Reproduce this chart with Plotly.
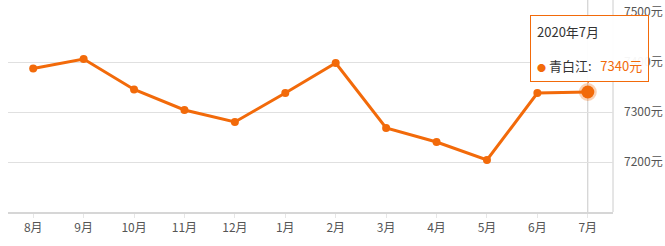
import plotly.graph_objects as go

months = ["8月", "9月", "10月", "11月", "12月", "1月", "2月", "3月", "4月", "5月", "6月", "7月"]
prices = [7387, 7406, 7345, 7304, 7280, 7338, 7398, 7268, 7240, 7204, 7338, 7340]
y_ticks = [7200, 7300, 7400, 7500]
y_tick_labels = ["7200元", "7300元", "7400元", "7500元"]
tip_title = "2020年7月"
series_name = "青白江"

ORANGE = "#f26a0a"
FONT = "Noto Sans CJK SC, Microsoft YaHei, sans-serif"

fig = go.Figure()
fig.add_trace(go.Scatter(
    x=months, y=prices, mode="lines+markers",
    line=dict(color=ORANGE, width=3),
    marker=dict(color=ORANGE, size=8),
    hoverinfo="skip", showlegend=False, cliponaxis=False,
))
# highlighted last point with halo
fig.add_trace(go.Scatter(
    x=[months[-1]], y=[prices[-1]], mode="markers",
    marker=dict(color=ORANGE, size=13, line=dict(color="rgba(242,106,10,0.3)", width=5)),
    hoverinfo="skip", showlegend=False, cliponaxis=False,
))

# axis pointer line and right border line, extending to top of the figure
fig.add_shape(type="line", xref="x", yref="paper", x0=months[-1], x1=months[-1], y0=0, y1=1.06,
              line=dict(color="#c8c8c8", width=1), layer="below")
fig.add_shape(type="line", xref="paper", yref="paper", x0=1, x1=1, y0=0, y1=1.06,
              line=dict(color="#cccccc", width=1), layer="below")

fig.add_annotation(
    x=months[-1], y=prices[-1], xref="x", yref="y",
    text=(f"<span style='color:#333'>{tip_title}</span><br>"
          f"<span style='font-size:8px'> </span><br>"
          f"<span style='color:{ORANGE};font-size:9px'>●</span> <span style='color:#333'>{series_name}:</span>"
          f"   <span style='color:{ORANGE}'>{prices[-1]}元</span>"),
    align="left", showarrow=True, arrowhead=0, arrowwidth=1, arrowcolor=ORANGE,
    ax=2, ay=-44, standoff=9,
    bgcolor="rgba(255,255,255,0.95)", bordercolor=ORANGE, borderwidth=1, borderpad=6,
    font=dict(family=FONT, size=13, color="#333"),
)

fig.update_layout(
    width=665, height=246,
    margin=dict(l=8, r=52, t=12, b=34),
    paper_bgcolor="white", plot_bgcolor="white",
    font=dict(family=FONT, size=12, color="#666"),
    xaxis=dict(
        type="category", range=[-0.5, len(months) - 0.5],
        showgrid=False, showline=True, linecolor="#d6d6d6", linewidth=2,
        ticks="outside", ticklen=4, tickcolor="#e6e6e6", tickfont=dict(size=12, color="#555"),
        fixedrange=True,
    ),
    yaxis=dict(
        side="right", range=[7100, 7500], tickvals=y_ticks, ticktext=y_tick_labels,
        showgrid=True, gridcolor="#e0e0e0", gridwidth=1,
        showline=False,
        ticks="", ticklabelstandoff=10, tickfont=dict(size=12, color="#555"), zeroline=False,
        automargin=False,
    ),
)

fig.write_html("out.html")
